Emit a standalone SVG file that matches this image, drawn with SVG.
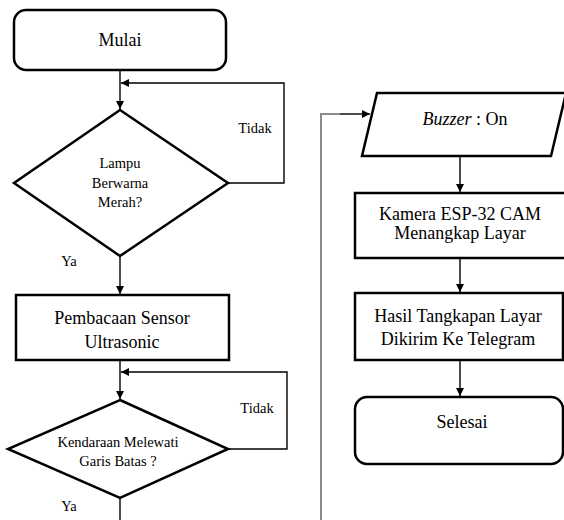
<svg xmlns="http://www.w3.org/2000/svg" width="564" height="520" viewBox="0 0 564 520">
<style>
.n{fill:#fff;stroke:#000;stroke-width:2.5}
.c{fill:none;stroke:#000;stroke-width:1.4}
.g{fill:none;stroke:#8a8a8a;stroke-width:2}
.t{fill:#000;text-anchor:middle}
.b{font-size:18px}
.s{font-size:14.5px}
</style>
<defs>
<marker id="ah" viewBox="0 0 10 10" refX="10" refY="5" markerWidth="8" markerHeight="8" markerUnits="userSpaceOnUse" orient="auto"><path d="M0,0 L10,5 L0,10 z" fill="#000"/></marker>
</defs>
<rect width="564" height="520" fill="#fff"/>
<g id="connectors">
<line class="c" x1="120" y1="70" x2="120" y2="109" marker-end="url(#ah)"/>
<polyline class="c" points="228,183 284,183 284,83 121,83" marker-end="url(#ah)"/>
<line class="c" x1="120" y1="256" x2="120" y2="294" marker-end="url(#ah)"/>
<line class="c" x1="120" y1="360" x2="120" y2="399" marker-end="url(#ah)"/>
<polyline class="c" points="228,449 287,449 287,372 121,372" marker-end="url(#ah)"/>
<line class="c" x1="120" y1="498" x2="120" y2="520"/>
<polyline class="g" points="321,520 321,114 340,114"/>
<line class="c" x1="340" y1="114" x2="370" y2="114" marker-end="url(#ah)"/>
<line class="c" x1="460" y1="156" x2="460" y2="192" marker-end="url(#ah)"/>
<line class="c" x1="460" y1="258" x2="460" y2="292" marker-end="url(#ah)"/>
<line class="c" x1="460" y1="360" x2="460" y2="396" marker-end="url(#ah)"/>
</g>
<g font-family="'Liberation Serif', 'Times New Roman', 'DejaVu Serif', serif">
<g id="mulai">
<rect class="n" x="14" y="10" width="212" height="60" rx="12"/>
<text class="t b" x="120" y="46">Mulai</text>
</g>
<g id="lampu">
<polygon class="n" points="120,110 228,183 120,256 14,183"/>
<text class="t s" x="120" y="168">Lampu</text>
<text class="t s" x="120" y="188">Berwarna</text>
<text class="t s" x="120" y="207">Merah?</text>
</g>
<g id="label-tidak1"><text class="t s" x="255" y="133">Tidak</text></g>
<g id="label-ya1"><text class="t s" x="69" y="266">Ya</text></g>
<g id="pembacaan">
<rect class="n" x="16" y="295" width="213" height="65"/>
<text class="t b" x="122" y="324">Pembacaan Sensor</text>
<text class="t b" x="122" y="348">Ultrasonic</text>
</g>
<g id="kendaraan">
<polygon class="n" points="120,400 228,449 120,498 8,449"/>
<text class="t s" x="118" y="447">Kendaraan Melewati</text>
<text class="t s" x="118" y="466">Garis Batas ?</text>
</g>
<g id="label-tidak2"><text class="t s" x="257" y="413">Tidak</text></g>
<g id="label-ya2"><text class="t s" x="69" y="511">Ya</text></g>
<g id="buzzer">
<polygon class="n" points="377,93 566,93 551,156 362,156"/>
<text class="t" x="465" y="125" font-size="18"><tspan font-style="italic">Buzzer</tspan> : On</text>
</g>
<g id="kamera">
<rect class="n" x="355" y="193" width="212" height="65"/>
<text class="t b" x="460" y="220">Kamera ESP-32 CAM</text>
<text class="t b" x="460" y="239">Menangkap Layar</text>
</g>
<g id="hasil">
<rect class="n" x="355" y="293" width="208" height="67"/>
<text class="t b" x="458" y="322">Hasil Tangkapan Layar</text>
<text class="t b" x="458" y="345">Dikirim Ke Telegram</text>
</g>
<g id="selesai">
<rect class="n" x="355" y="397" width="208" height="67" rx="12"/>
<text class="t b" x="462" y="428">Selesai</text>
</g>
</g>
</svg>
